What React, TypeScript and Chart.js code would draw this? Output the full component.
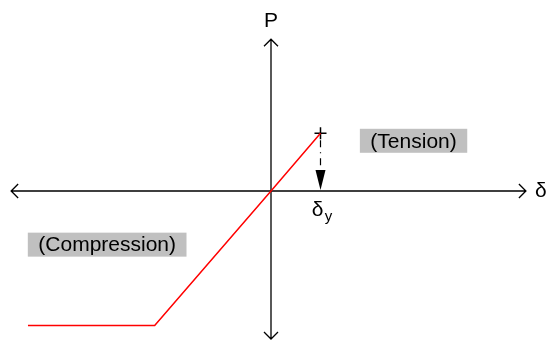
import React, { useEffect, useRef } from "react";
import { Chart, registerables } from "chart.js";

Chart.register(...registerables);

// Load–deformation curve (δ, P) in units of the yield values
const curveDelta = [-4.91, -2.35, 0, 1];
const curveP = [-2.33, -2.33, 0, 1];
const yieldDelta = [1];
const yieldP = [1];

// Axis extents (data units)
const axisDeltaRange = [-5.25, 5.15];
const axisPRange = [-2.565, 2.63];
const viewDelta = [-5.475, 5.576];
const viewP = [-2.6, 3.31];

// Text labels
const axisLabels = ["δ", "P"];
const regionLabels = ["(Tension)", "(Compression)"];
const regionDelta = [2.88, -3.31];
const regionP = [0.87, -0.93];

const FONT = "'Liberation Sans', Arial, sans-serif";

const overlayPlugin = {
  id: "overlay",
  beforeDatasetsDraw(chart: any) {
    const { ctx, scales } = chart;
    const xs = scales.x;
    const ys = scales.y;
    const x0 = xs.getPixelForValue(0);
    const y0 = ys.getPixelForValue(0);
    const xl = xs.getPixelForValue(axisDeltaRange[0]);
    const xr = xs.getPixelForValue(axisDeltaRange[1]);
    const yt = ys.getPixelForValue(axisPRange[1]);
    const yb = ys.getPixelForValue(axisPRange[0]);
    ctx.save();
    ctx.strokeStyle = "#000";
    ctx.lineWidth = 1.3;
    ctx.beginPath();
    ctx.moveTo(xl, y0);
    ctx.lineTo(xr, y0);
    ctx.moveTo(x0, yt);
    ctx.lineTo(x0, yb);
    // open chevrons
    const a = 7;
    ctx.moveTo(xl + a, y0 - a);
    ctx.lineTo(xl, y0);
    ctx.lineTo(xl + a, y0 + a);
    ctx.moveTo(xr - a, y0 - a);
    ctx.lineTo(xr, y0);
    ctx.lineTo(xr - a, y0 + a);
    ctx.moveTo(x0 - a, yt + a);
    ctx.lineTo(x0, yt);
    ctx.lineTo(x0 + a, yt + a);
    ctx.moveTo(x0 - a, yb - a);
    ctx.lineTo(x0, yb);
    ctx.lineTo(x0 + a, yb - a);
    ctx.stroke();

    // region labels with grey boxes
    ctx.font = `21px ${FONT}`;
    ctx.textAlign = "center";
    ctx.textBaseline = "middle";
    regionLabels.forEach((t, i) => {
      const cx = xs.getPixelForValue(regionDelta[i]);
      const cy = ys.getPixelForValue(regionP[i]);
      const w = ctx.measureText(t).width + 21;
      const h = 24;
      ctx.fillStyle = "#c0c0c0";
      ctx.fillRect(cx - w / 2, cy - h / 2, w, h);
      ctx.fillStyle = "#000";
      ctx.fillText(t, cx, cy + 1);
    });

    // axis labels
    ctx.fillText(axisLabels[0], xr + 15, y0);
    ctx.fillText(axisLabels[1], x0, yt - 18);

    // yield arrow head
    const xy = xs.getPixelForValue(yieldDelta[0]);
    ctx.beginPath();
    ctx.moveTo(xy - 5, y0 - 21);
    ctx.lineTo(xy + 5, y0 - 21);
    ctx.lineTo(xy, y0 - 1);
    ctx.closePath();
    ctx.fill();

    // δy label
    ctx.fillText("δ", xy - 3, y0 + 19);
    ctx.font = `15px ${FONT}`;
    ctx.fillText("y", xy + 8, y0 + 26);
    ctx.restore();
  },
};

export default function App() {
  const ref = useRef<HTMLCanvasElement>(null);
  useEffect(() => {
    if (!ref.current) return;
    const chart = new Chart(ref.current, {
      type: "scatter",
      data: {
        datasets: [
          {
            data: curveDelta.map((d, i) => ({ x: d, y: curveP[i] })),
            showLine: true,
            borderColor: "#ff0000",
            borderWidth: 1.5,
            pointRadius: 0,
            fill: false,
          },
          {
            data: [
              { x: yieldDelta[0], y: yieldP[0] - 0.12 },
              { x: yieldDelta[0], y: 0.36 },
            ],
            showLine: true,
            borderColor: "#000",
            borderWidth: 1.2,
            borderDash: [7, 5, 1, 5],
            pointRadius: 0,
          },
          {
            data: yieldDelta.map((d, i) => ({ x: d, y: yieldP[i] })),
            pointStyle: "cross",
            pointRadius: 6,
            borderColor: "#000",
            borderWidth: 1.5,
            backgroundColor: "#000",
          },
        ],
      },
      options: {
        animation: false,
        responsive: false,
        layout: { padding: 0, autoPadding: false },
        plugins: { legend: { display: false }, tooltip: { enabled: false } },
        scales: {
          x: { type: "linear", min: viewDelta[0], max: viewDelta[1], display: false },
          y: { type: "linear", min: viewP[0], max: viewP[1], display: false },
        },
      },
      plugins: [overlayPlugin],
    });
    return () => chart.destroy();
  }, []);
  return (
    <div style={{ position: "fixed", left: 0, top: 0, width: 547, height: 341, background: "#fff" }}>
      <canvas ref={ref} width={547} height={341} />
    </div>
  );
}
